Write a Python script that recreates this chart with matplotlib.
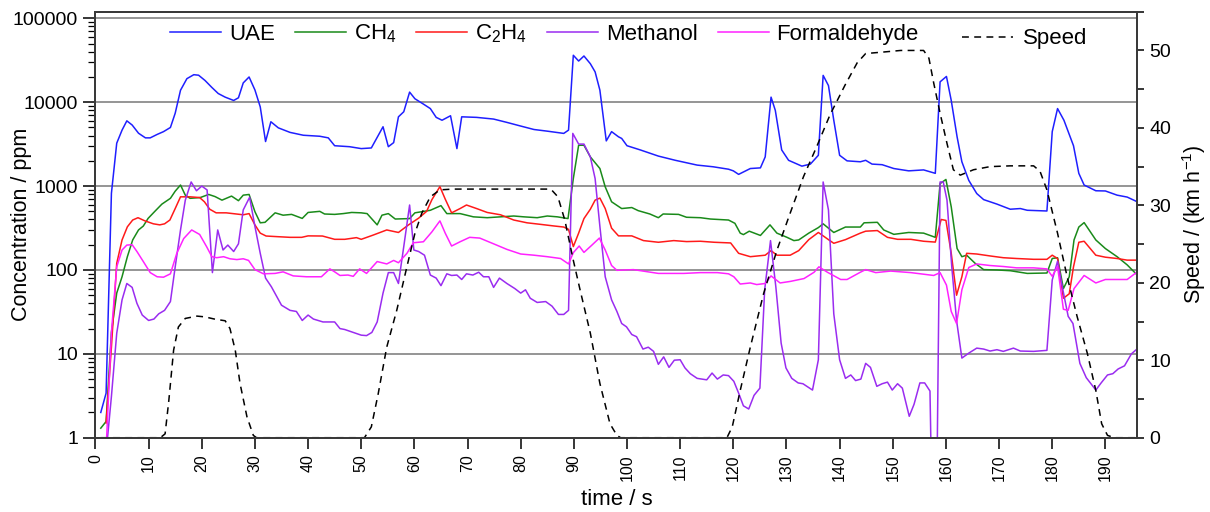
"""Exhaust concentrations (log scale) and vehicle speed over a short drive cycle."""
import matplotlib

matplotlib.use("Agg")
import matplotlib.pyplot as plt  # noqa: E402
from matplotlib.ticker import FixedLocator, LogLocator, MultipleLocator, NullFormatter  # noqa: E402

plt.rcParams["font.family"] = ["Liberation Sans", "DejaVu Sans"]
plt.rcParams["mathtext.fontset"] = "custom"
plt.rcParams["mathtext.rm"] = "Liberation Sans"
plt.rcParams["mathtext.it"] = "Liberation Sans:italic"

# ---- data (time in s, concentration in ppm, speed in km/h) ----
uae_t = [1.0, 2.0, 3.0, 4.0, 5.0, 5.9, 6.9, 8.1, 9.4, 10.3, 11.6, 12.8, 14.1, 15.0, 16.0,
         17.2, 18.5, 19.4, 20.6, 21.9, 23.1, 24.4, 26.0, 26.9, 27.8, 28.9, 30.0, 31.0,
         32.0, 33.0, 34.4, 36.6, 39.1, 42.2, 43.8, 45.0, 47.8, 50.0, 51.9, 54.1, 55.1,
         56.1, 57.0, 58.0, 59.1, 60.1, 61.7, 63.0, 64.1, 65.2, 66.8, 68.0, 68.9, 71.7,
         74.9, 77.4, 80.0, 82.5, 85.0, 88.1, 89.0, 89.9, 90.9, 91.9, 93.1, 94.0, 94.9,
         96.1, 97.1, 98.4, 99.0, 100.0, 102.5, 105.9, 109.1, 113.2, 116.2, 119.1, 120.0,
         121.0, 123.2, 125.1, 126.0, 127.1, 127.9, 129.1, 130.4, 132.9, 134.5, 136.0,
         136.9, 137.9, 138.9, 140.0, 141.4, 143.9, 144.9, 146.1, 148.0, 150.2, 153.0,
         155.8, 158.0, 158.9, 160.1, 161.0, 162.1, 163.0, 164.3, 165.8, 167.1, 169.6,
         172.1, 174.0, 175.3, 179.0, 180.0, 181.0, 182.2, 184.0, 185.0, 186.0, 188.2,
         190.0, 192.2, 194.1, 196.0]
uae = [2.0, 3.4, 820, 3250, 4650, 6000, 5350, 4270, 3760, 3760, 4130, 4460, 5000, 7400,
       13900, 19100, 21300, 21000, 18200, 15000, 12700, 11500, 10500, 11300, 17000, 20000,
       14000, 8800, 3400, 5850, 4950, 4370, 4040, 3930, 3760, 3030, 2950, 2800, 2850, 5100,
       2950, 3300, 6700, 7700, 13200, 11000, 9500, 8400, 6600, 6100, 6900, 2800, 6700,
       6600, 6300, 5750, 5200, 4730, 4520, 4250, 4650, 36300, 31000, 35600, 28800, 23000,
       13900, 3460, 4460, 3870, 3700, 3030, 2700, 2280, 2030, 1780, 1700, 1590, 1520, 1380,
       1620, 1650, 2230, 11500, 8000, 2700, 2030, 1730, 1830, 2330, 20900, 15800, 6100,
       2330, 2000, 1950, 2030, 1830, 1800, 1620, 1520, 1560, 1420, 17500, 20300, 10500,
       3870, 1950, 1170, 815, 690, 610, 530, 540, 515, 505, 4460, 8400, 6100, 3030, 1420,
       1030, 880, 875, 780, 740, 650]

ch4_t = [1.0, 2.0, 3.0, 4.0, 5.0, 6.0, 7.0, 8.1, 9.0, 9.9, 11.3, 12.5, 14.1, 15.0, 16.0,
         16.9, 17.8, 19.7, 21.3, 22.5, 23.8, 25.6, 26.9, 27.8, 28.9, 30.0, 31.0, 31.9,
         33.8, 35.3, 36.9, 38.9, 40.0, 42.2, 43.1, 45.0, 46.6, 48.2, 50.0, 51.1, 53.0,
         53.9, 55.1, 56.4, 59.1, 60.1, 63.0, 65.0, 66.1, 68.6, 71.1, 73.7, 76.2, 78.7,
         80.6, 83.1, 85.0, 86.9, 88.9, 89.9, 90.9, 91.9, 93.1, 94.9, 95.9, 97.1, 99.0,
         100.9, 102.1, 104.3, 105.9, 106.8, 109.7, 111.2, 113.8, 115.7, 119.1, 120.3,
         121.3, 121.9, 123.0, 125.1, 126.9, 128.2, 130.1, 131.4, 132.3, 134.2, 136.0,
         136.9, 138.9, 141.1, 143.9, 144.6, 147.1, 148.3, 150.2, 153.0, 155.8, 158.0,
         158.9, 160.0, 161.0, 162.1, 163.0, 163.9, 165.5, 167.1, 169.6, 172.1, 175.3,
         179.0, 180.0, 181.0, 182.1, 183.2, 184.1, 185.0, 186.0, 188.2, 190.0, 192.2,
         194.1, 196.0]
ch4 = [1.3, 1.56, 18, 53, 83, 144, 228, 300, 334, 412, 510, 610, 715, 870, 1030, 780, 715,
       730, 795, 750, 680, 760, 670, 780, 795, 495, 365, 370, 480, 450, 460, 412, 485, 500,
       465, 460, 470, 485, 480, 470, 345, 450, 470, 405, 410, 480, 515, 585, 470, 470, 430,
       420, 430, 440, 430, 420, 440, 430, 410, 1230, 3070, 3070, 2230, 1620, 980, 650, 540,
       555, 510, 465, 420, 465, 460, 425, 420, 405, 394, 360, 275, 264, 290, 258, 345, 275,
       245, 224, 228, 275, 320, 355, 280, 325, 325, 365, 370, 300, 266, 280, 275, 245, 1070,
       1200, 565, 180, 144, 150, 120, 101, 100, 98, 91, 92, 137, 140, 60, 83, 228, 325, 367,
       228, 180, 144, 115, 87]

c2h4_t = [2.0, 3.0, 4.0, 5.0, 6.0, 7.0, 8.0, 9.3, 10.9, 12.1, 13.0, 14.0, 15.0, 16.0, 17.8,
          19.6, 20.5, 21.5, 22.7, 24.6, 26.5, 27.8, 28.9, 30.0, 31.0, 32.1, 34.0, 36.6,
          38.8, 40.0, 42.7, 45.0, 46.9, 49.1, 50.0, 52.2, 54.8, 57.0, 58.9, 60.8, 62.3,
          63.3, 64.8, 65.8, 67.0, 68.6, 69.8, 71.7, 73.7, 76.2, 78.7, 81.2, 83.7, 86.2,
          88.1, 89.0, 89.9, 90.9, 91.9, 93.1, 94.0, 94.9, 95.9, 97.1, 98.4, 100.9, 103.1,
          105.9, 108.8, 111.2, 113.8, 116.4, 119.5, 121.0, 123.2, 126.0, 127.1, 128.2,
          130.7, 132.3, 134.2, 136.0, 137.9, 138.9, 141.1, 143.9, 144.9, 147.1, 149.0,
          150.9, 153.4, 155.8, 158.0, 159.1, 160.0, 161.0, 162.0, 163.0, 163.9, 165.8,
          168.3, 170.8, 173.3, 176.5, 179.0, 180.0, 181.0, 182.1, 183.2, 184.0, 185.0,
          186.0, 188.2, 190.0, 192.2, 194.1, 196.0]
c2h4 = [1.5, 12, 120, 228, 327, 394, 420, 385, 355, 345, 355, 394, 540, 745, 745, 730, 650,
        530, 480, 480, 465, 455, 470, 345, 275, 254, 250, 245, 245, 255, 254, 232, 232, 243,
        232, 260, 300, 280, 345, 415, 500, 690, 985, 700, 480, 540, 595, 540, 485, 455, 394,
        365, 350, 335, 325, 305, 190, 275, 410, 530, 680, 720, 540, 315, 255, 255, 224, 214,
        224, 218, 220, 214, 210, 158, 144, 150, 170, 150, 150, 170, 230, 280, 230, 208, 230,
        275, 290, 295, 245, 232, 232, 220, 215, 400, 390, 158, 50, 83, 158, 155, 147, 140,
        137, 134, 134, 150, 137, 46, 52, 109, 214, 220, 150, 142, 137, 131, 131]

methanol_t = [2.2, 3.0, 4.0, 5.0, 5.9, 6.9, 7.8, 8.8, 10.0, 11.0, 11.9, 13.0, 14.1, 15.0,
              16.0, 16.9, 18.0, 19.0, 20.0, 21.0, 22.0, 23.0, 24.0, 24.9, 26.0, 26.9, 27.8,
              29.0, 30.0, 31.0, 32.0, 33.1, 35.0, 36.6, 37.8, 38.9, 40.0, 41.0, 42.8, 45.0,
              46.0, 46.9, 48.5, 50.0, 51.0, 52.0, 53.0, 54.1, 55.1, 56.1, 57.0, 58.0, 59.1,
              59.9, 60.8, 61.9, 63.0, 64.1, 65.0, 66.1, 67.0, 68.0, 68.9, 69.8, 71.0, 72.1,
              73.0, 74.0, 74.9, 76.0, 77.4, 78.9, 80.0, 80.9, 81.8, 83.1, 84.7, 85.9, 87.1,
              88.1, 89.0, 89.8, 90.9, 91.9, 93.1, 94.0, 94.9, 95.9, 97.1, 98.1, 99.0, 99.9,
              100.9, 101.8, 103.0, 104.0, 105.0, 105.9, 106.9, 107.9, 108.9, 110.0, 110.9,
              111.9, 113.2, 115.0, 116.0, 117.0, 118.1, 119.1, 120.1, 121.0, 121.9, 122.9,
              123.9, 125.0, 125.9, 127.0, 128.0, 129.0, 129.9, 131.0, 132.2, 133.1, 134.9,
              136.0, 136.9, 137.9, 138.9, 140.0, 141.1, 142.1, 143.0, 144.0, 144.9, 145.8,
              147.0, 148.0, 149.0, 149.9, 150.9, 151.8, 153.1, 154.0, 155.1, 156.0, 157.0,
              157.3, 158.3, 158.9, 159.5, 160.2, 161.1, 162.0, 163.0, 164.3, 165.8, 167.1,
              168.3, 169.6, 170.8, 172.7, 174.0, 176.5, 179.0, 180.0, 181.0, 182.0, 183.0,
              183.9, 185.2, 186.4, 188.2, 189.2, 190.4, 191.4, 192.4, 193.6, 194.9, 196.0]
methanol = [0.9, 3.1, 17.6, 44, 69, 62, 40, 29, 25, 26, 30, 33, 42, 109, 300, 680, 1120, 880,
            1000, 900, 93, 300, 173, 198, 166, 205, 520, 735, 330, 158, 80, 63, 38, 33, 32, 25,
            29, 26, 24, 24, 20, 19.5, 18, 16.7, 16.5, 18, 24, 53, 93, 93, 69, 190, 595, 173,
            166, 150, 87, 80, 65, 90, 86, 87, 77, 90, 87, 94, 83, 83, 62, 80, 69, 60, 53, 58,
            46, 41, 42, 37, 29.5, 29.5, 33, 4250, 3170, 3170, 2230, 1230, 330, 83, 44, 32, 23,
            21, 17, 16, 11.4, 12, 10.7, 7.5, 9.2, 6.9, 8.4, 8.5, 6.8, 5.8, 5.1, 4.9, 5.9, 5.0,
            5.6, 5.5, 4.7, 3.4, 2.4, 2.2, 3.2, 3.9, 58, 224, 63, 13.4, 6.8, 5.1, 4.5, 4.4, 3.7,
            8.5, 1120, 520, 30, 8.5, 5.1, 5.6, 4.8, 5.0, 7.7, 6.9, 4.1, 4.4, 4.6, 3.7, 4.4, 3.9,
            1.8, 2.5, 4.5, 4.5, 3.6, 0.3, 0.3, 1120, 1120, 680, 109, 25, 8.9, 10.2, 11.7, 11.4,
            10.8, 11.2, 10.7, 11.7, 10.8, 10.7, 11, 76, 127, 58, 28, 23, 7.7, 5.2, 3.7, 4.5,
            5.6, 5.8, 6.6, 7.2, 10, 11.5]

hcho_t = [2.1, 3.0, 4.0, 5.0, 5.9, 6.9, 7.8, 9.0, 10.3, 11.6, 12.8, 14.1, 15.3, 16.6, 18.1,
          19.6, 20.9, 21.9, 22.8, 24.1, 25.3, 26.6, 27.8, 28.8, 30.0, 31.6, 33.8, 35.3, 37.2,
          39.7, 42.5, 44.1, 45.0, 46.0, 47.5, 48.5, 49.7, 51.0, 53.0, 54.8, 56.1, 57.0, 58.6,
          59.8, 61.7, 63.3, 64.8, 65.8, 67.0, 68.6, 70.4, 72.3, 74.9, 77.4, 80.0, 82.5, 85.0,
          87.5, 89.0, 89.9, 91.0, 91.9, 93.4, 94.8, 95.9, 97.1, 98.1, 101.2, 105.9, 110.7,
          113.8, 117.0, 119.1, 120.1, 121.3, 123.2, 124.4, 126.0, 127.1, 128.8, 130.7, 133.3,
          135.2, 136.1, 137.7, 140.2, 141.4, 143.9, 144.9, 146.8, 149.6, 153.4, 157.7, 158.9,
          160.1, 161.0, 162.0, 163.0, 164.3, 165.8, 168.3, 170.8, 173.3, 176.5, 179.0, 180.0,
          181.0, 182.1, 183.0, 184.1, 186.0, 188.2, 190.0, 192.2, 194.1, 196.0]
hcho = [1.0, 18, 109, 173, 198, 200, 166, 126, 93, 83, 82, 90, 158, 237, 300, 265, 190, 144,
        140, 144, 136, 133, 136, 130, 101, 90, 91, 95, 85, 83, 83, 103, 95, 86, 87, 84, 103,
        91, 126, 118, 130, 122, 158, 211, 217, 285, 385, 275, 193, 217, 245, 240, 205, 176,
        155, 150, 144, 137, 118, 161, 193, 162, 198, 240, 173, 113, 99, 101, 91, 91, 93, 93,
        90, 83, 68, 70, 67, 69, 85, 70, 73, 79, 94, 109, 94, 77, 77, 94, 101, 93, 97, 93, 86,
        93, 66, 32, 23, 58, 107, 118, 113, 110, 106, 106, 103, 84, 110, 34, 33, 60, 86, 70,
        77, 77, 77, 95]

speed_t = [1.0, 12.2, 13.1, 13.8, 14.7, 15.6, 16.9, 19.1, 20.6, 22.5, 24.4, 25.3, 26.3, 27.2,
           28.5, 29.7, 30.3, 50.6, 51.9, 53.2, 54.8, 56.7, 58.6, 60.1, 61.4, 63.0, 64.8,
           67.3, 85.0, 85.8, 87.0, 88.3, 89.9, 91.2, 93.1, 94.9, 96.8, 98.1, 98.8, 118.8,
           119.8, 121.3, 123.2, 125.7, 128.2, 130.7, 133.2, 135.7, 138.2, 141.0, 143.3,
           144.9, 148.3, 151.5, 155.8, 156.8, 157.7, 158.9, 160.2, 161.4, 162.7, 165.2,
           168.3, 172.1, 176.5, 177.7, 179.0, 181.0, 182.8, 184.7, 186.6, 188.2, 189.3,
           190.4, 191.7, 196.0]
speed = [0, 0, 0.5, 4.8, 11.3, 14.3, 15.4, 15.7, 15.6, 15.3, 15.1, 14.1, 11.3, 7.0, 2.7, 0.3,
         0, 0, 1.4, 5.7, 11.7, 16.5, 22.1, 26.4, 29.0, 31.1, 32.0, 32.1, 32.1, 32.0, 31.1,
         28.1, 22.9, 19.0, 13.5, 7.0, 1.8, 0.3, 0, 0, 1.4, 6.1, 11.7, 18.6, 24.2, 29.0, 33.7,
         37.6, 41.7, 45.5, 48.4, 49.6, 49.8, 50.0, 50.0, 49.0, 45.8, 41.9, 38.0, 34.6, 33.9,
         34.6, 35.0, 35.1, 35.1, 34.4, 32.0, 26.4, 20.8, 15.6, 10.9, 6.1, 1.8, 0.3, 0, 0]

decade_ticks = [1, 10, 100, 1000, 10000, 100000]
time_ticks = list(range(0, 200, 10))
speed_ticks = [0, 10, 20, 30, 40, 50]


def main() -> None:
    fig = plt.figure(figsize=(12.1, 5.12), dpi=100)
    ax = fig.add_axes([0.0789, 0.1451, 0.8610, 0.8320])
    ax2 = ax.twinx()

    lw = 1.1
    ax.plot(uae_t, uae, color="#1f1fff", lw=lw, label="UAE")
    ax.plot(ch4_t, ch4, color="#1a8a1a", lw=lw, label="CH$_4$")
    ax.plot(c2h4_t, c2h4, color="#ff1a1a", lw=lw, label="C$_2$H$_4$")
    ax.plot(methanol_t, methanol, color="#9a2cf0", lw=lw, label="Methanol")
    ax.plot(hcho_t, hcho, color="#ff22ff", lw=lw, label="Formaldehyde")
    ax2.plot(speed_t, speed, color="black", lw=1.1, ls=(0, (4.5, 3.5)), label="Speed")

    ax.set_yscale("log")
    ax.set_ylim(1, 1.2e5)
    ax.set_xlim(0, 196)
    ax2.set_ylim(0, 55)

    ax.yaxis.set_major_locator(FixedLocator(decade_ticks))
    ax.set_yticklabels([str(v) for v in decade_ticks])
    ax.yaxis.set_minor_locator(LogLocator(base=10, subs=range(2, 10)))
    ax.yaxis.set_minor_formatter(NullFormatter())
    for v in decade_ticks:
        ax.axhline(v, color="#8c8c8c", lw=1.3, zorder=0)

    ax.set_xticks(time_ticks)
    ax.set_xticklabels([str(v) for v in time_ticks], rotation=90, fontsize=11.5)
    ax2.set_yticks(speed_ticks)
    ax2.yaxis.set_minor_locator(MultipleLocator(5))

    ax.tick_params(axis="y", which="major", direction="out", length=9, width=1.1, labelsize=14)
    ax.tick_params(axis="y", which="minor", direction="out", length=5, width=0.9)
    ax.tick_params(axis="x", direction="out", length=8, width=1.1, pad=4)
    ax2.tick_params(axis="y", which="both", direction="out", length=5, width=1.1, labelsize=14)

    for a in (ax, ax2):
        for sp in a.spines.values():
            sp.set_color("#3a3a3a")
            sp.set_linewidth(1.4)

    ax.set_xlabel("time / s", fontsize=16, labelpad=6)
    ax.set_ylabel("Concentration / ppm", fontsize=15.5, va="center")
    ax.yaxis.set_label_coords(-0.0706, 0.5)
    ax2.set_ylabel("Speed / (km h$^{-1}$)", fontsize=15.5, va="center")
    ax2.yaxis.set_label_coords(1.0545, 0.5)

    leg = ax.legend(loc="center left", bbox_to_anchor=(0.0715, 0.948), ncol=5,
                    frameon=False, fontsize=16, handlelength=2.3, handletextpad=0.35,
                    columnspacing=0.9, borderpad=0, borderaxespad=0)
    leg.set_zorder(5)
    ax2.legend(loc="center left", bbox_to_anchor=(0.832, 0.936), frameon=False,
               fontsize=16, handlelength=2.3, handletextpad=0.45, borderpad=0,
               borderaxespad=0)

    fig.savefig("out.png", dpi=100)
    plt.close(fig)


if __name__ == "__main__":
    main()
